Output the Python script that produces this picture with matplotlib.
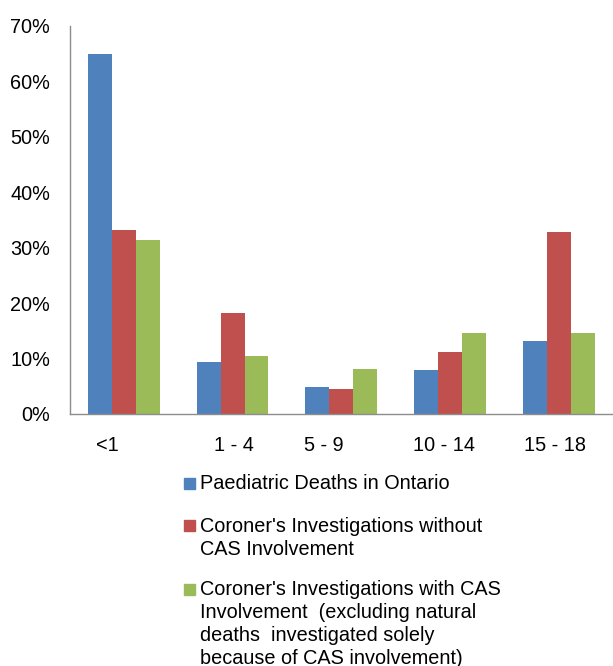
import numpy as np
import matplotlib
matplotlib.use('Agg')
import matplotlib.pyplot as plt
from matplotlib.patches import Rectangle
from matplotlib.transforms import ScaledTranslation

plt.rcParams['font.family'] = ['Liberation Sans', 'DejaVu Sans']

# Datos (porcentaje de muertes por grupo de edad)
grupos = ['<1', '1 - 4', '5 - 9', '10 - 14', '15 - 18']
muertes_ontario = [64.9, 9.3, 4.9, 7.9, 13.2]
sin_cas = [33.2, 18.2, 4.5, 11.2, 32.9]
con_cas = [31.4, 10.5, 8.2, 14.6, 14.6]

series = [muertes_ontario, sin_cas, con_cas]
etiquetas = [
    "Paediatric Deaths in Ontario",
    "Coroner's Investigations without\nCAS Involvement",
    "Coroner's Investigations with CAS\nInvolvement  (excluding natural\ndeaths  investigated solely\nbecause of CAS involvement)",
]
colores = ['#4F81BD', '#C0504D', '#9BBB59']
fs = 14.3

fig = plt.figure(figsize=(6.13, 6.66), dpi=100)
ax = fig.add_axes([0.1134, 0.3784, 0.8866, 0.5826])

x = np.arange(len(grupos))
ancho = 0.22
for i, (vals, col) in enumerate(zip(series, colores)):
    ax.bar(x + (i - 1) * ancho, vals, width=ancho, color=col, edgecolor='none')

ax.set_xlim(-0.5, len(grupos) - 0.5)
ax.set_ylim(0, 70)
ax.set_yticks(np.arange(0, 71, 10))
ax.set_yticklabels([f'{v}%' for v in range(0, 71, 10)])
ax.set_xticks(x)
ax.set_xticklabels(grupos)
ax.tick_params(axis='both', length=0, labelsize=fs, colors='black')
ax.tick_params(axis='y', pad=14)
ax.tick_params(axis='x', pad=16)

# las etiquetas del eje x no estan centradas en el original
desplaz = [-16, 1, -17, -6, -4]
for lab, dx in zip(ax.get_xticklabels(), desplaz):
    lab.set_transform(lab.get_transform() + ScaledTranslation(dx / 100, 0, fig.dpi_scale_trans))

for s in ['top', 'right']:
    ax.spines[s].set_visible(False)
for s in ['left', 'bottom']:
    ax.spines[s].set_color('#8c8c8c')
    ax.spines[s].set_linewidth(1.0)

# leyenda manual (cada linea colocada por su linea base)
W, H = 613, 666
bases = [489, 531.7, 595]
paso = 23
for txt, col, yb in zip(etiquetas, colores, bases):
    for k, linea in enumerate(txt.split('\n')):
        fig.text(200 / W, 1 - (yb + k * paso) / H, linea, fontsize=fs,
                 va='baseline', ha='left', color='black')
    fig.patches.append(Rectangle((184 / W, 1 - (yb - 0.5) / H), 11 / W, 11 / H,
                                 transform=fig.transFigure, color=col))

fig.savefig('out.png', dpi=100)
